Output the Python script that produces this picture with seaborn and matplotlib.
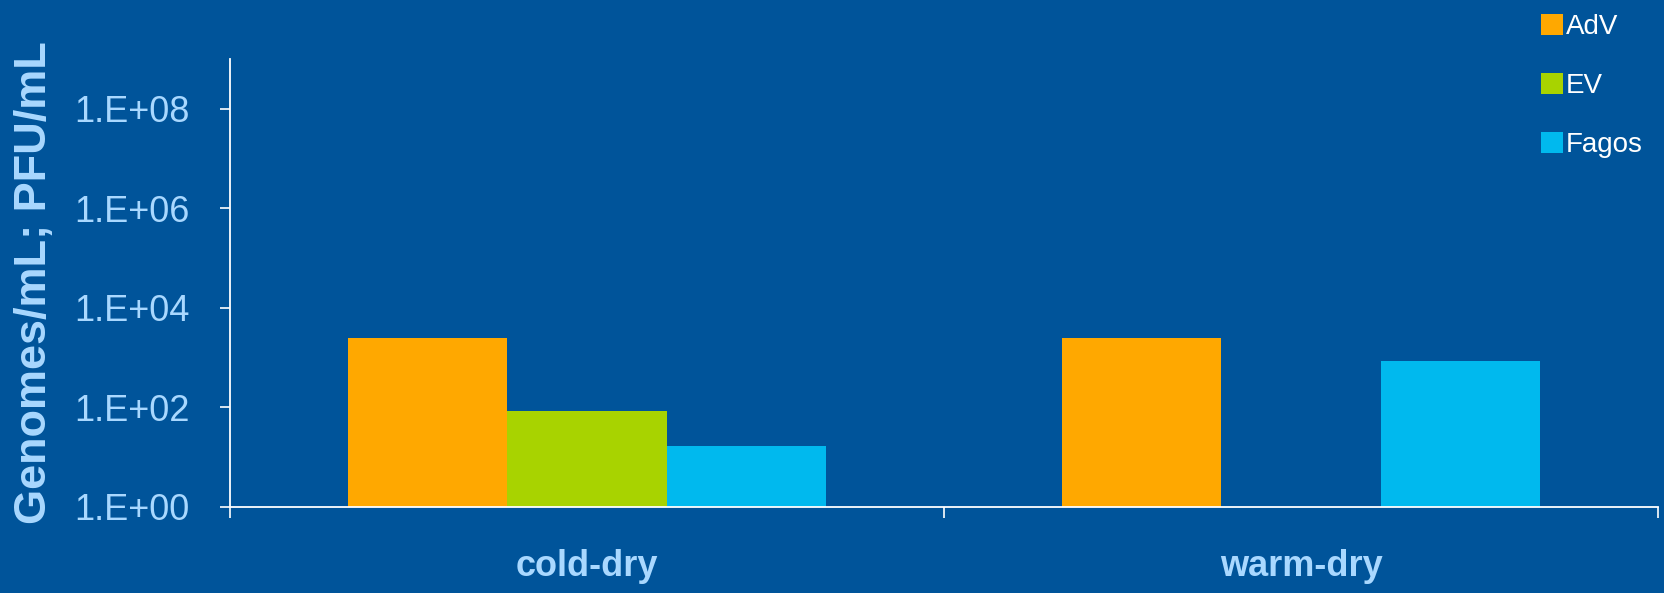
import matplotlib
matplotlib.use("Agg")
import matplotlib.pyplot as plt
import matplotlib.ticker as mticker
import numpy as np
import pandas as pd
import seaborn as sns

categories = ["cold-dry", "warm-dry"]
series = ["AdV", "EV", "Fagos"]
adv = [2450, 2450]
ev = [86, np.nan]
fagos = [17, 870]
ytick_vals = [1e0, 1e2, 1e4, 1e6, 1e8]
ytick_labels = ["1.E+00", "1.E+02", "1.E+04", "1.E+06", "1.E+08"]
colors = ["#FFA800", "#A8D300", "#00B9EE"]

BG = "#00549A"
LIGHT = "#A9D8FF"

df = pd.DataFrame({
    "cat": categories * 3,
    "virus": [s for s in series for _ in categories],
    "val": adv + ev + fagos,
})

sns.set_theme(style="white")
plt.rcParams["font.family"] = ["Liberation Sans", "DejaVu Sans"]

W, H = 1664, 593
fig = plt.figure(figsize=(W / 100, H / 100), dpi=100, facecolor=BG)
ax = fig.add_axes([230 / W, 1 - 507 / H, (1658 - 230) / W, (507 - 59) / H])
ax.set_facecolor(BG)

sns.barplot(data=df, x="cat", y="val", hue="virus", hue_order=series,
            palette=colors, width=0.67, gap=0, saturation=1, ax=ax,
            legend=True, linewidth=0)
ax.set_yscale("log")
ax.set_ylim(1, 1e9)
ax.set_xlim(-0.5, 1.5)
ax.yaxis.set_major_locator(mticker.FixedLocator(ytick_vals))
ax.yaxis.set_major_formatter(mticker.FixedFormatter(ytick_labels))
ax.yaxis.set_minor_locator(mticker.NullLocator())
ax.tick_params(axis="y", which="major", colors="white", labelcolor=LIGHT,
               labelsize=26, length=7, width=1.2, direction="out", pad=22, left=True)
ax.set_xticks([0, 1])
ax.set_xticklabels(categories)
ax.set_xticks([-0.5, 0.5, 1.5], minor=True)
ax.tick_params(axis="x", which="major", length=0, labelsize=26, labelcolor=LIGHT, pad=30)
ax.tick_params(axis="x", which="minor", length=8, width=1.2, colors="white", bottom=True)
for lab in ax.get_xticklabels():
    lab.set_fontweight("bold")
ax.set_xlabel("")
ax.set_ylabel("")
for s in ["top", "right"]:
    ax.spines[s].set_visible(False)
for s in ["left", "bottom"]:
    ax.spines[s].set_color("white")
    ax.spines[s].set_linewidth(1.3)

fig.text(35 / W, 1 - 283 / H, "Genomes/mL; PFU/mL", rotation=90, ha="center",
         va="center", color=LIGHT, fontsize=32.5, fontweight="bold")

handles, labels = ax.get_legend_handles_labels()
if ax.get_legend() is not None:
    ax.get_legend().remove()
leg = fig.legend(handles, labels, loc="upper left",
                 bbox_to_anchor=(1530 / W, 1 - 3 / H), frameon=False,
                 fontsize=20, handlelength=0.8, handleheight=0.8,
                 handletextpad=0.1, labelspacing=1.18, borderaxespad=0)
for t in leg.get_texts():
    t.set_color("white")

fig.savefig("out.png", dpi=100, facecolor=BG)
